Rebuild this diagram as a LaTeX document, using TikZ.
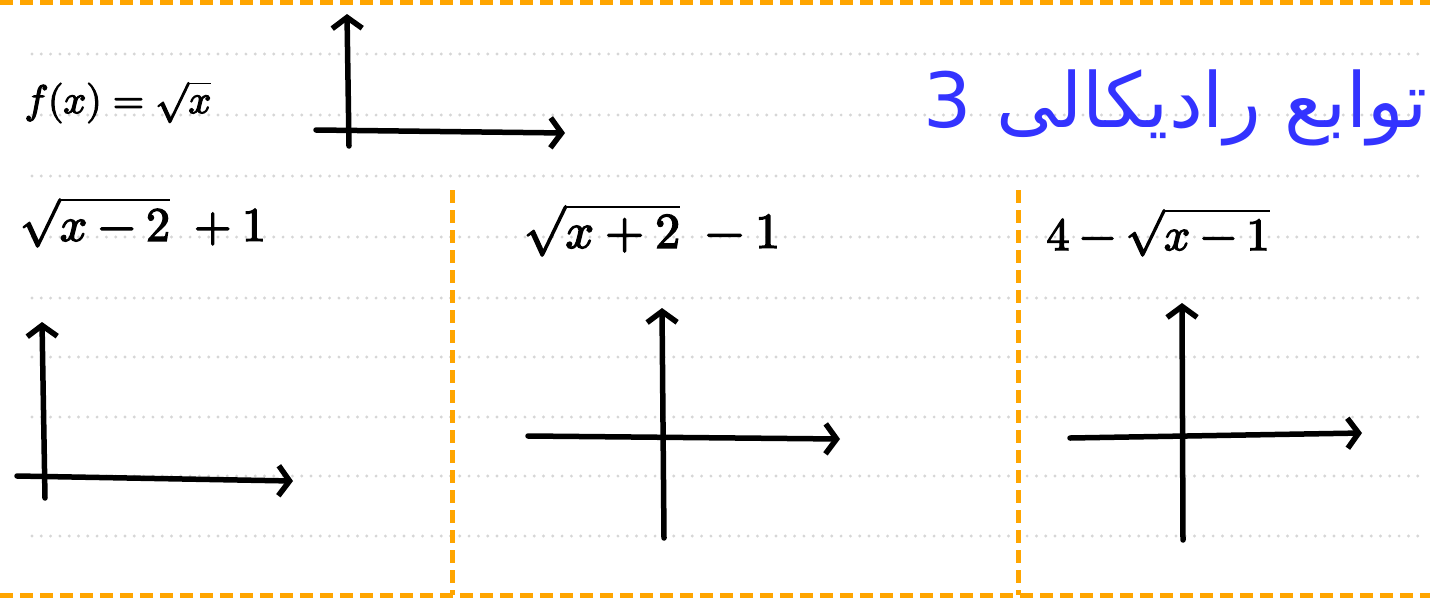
\documentclass[tikz,border=0pt]{standalone}
\usepackage{fontspec}
\usepackage{unicode-math}
\setmathfont{Latin Modern Math}
\setmathfont[version=heavy,FakeBold=3]{Latin Modern Math}
\usetikzlibrary{arrows.meta}
\newfontfamily\arabicfont[Script=Arabic]{DejaVu Sans}
\TeXXeTstate=1
\definecolor{dashorange}{HTML}{FFA500}
\definecolor{rulegray}{HTML}{D6D6D6}
\definecolor{titleblue}{HTML}{3333FF}
\begin{document}
\begin{tikzpicture}[x=1pt,y=-1pt,
  rule/.style={rulegray, line width=3.2pt, line cap=round, dash pattern=on 0pt off 9.3pt},
  frame/.style={dashorange, line width=5pt, dash pattern=on 13pt off 7pt},
  axis/.style={line width=5.5pt, line cap=round, -{Straight Barb[length=11pt,width=30pt]}},
  formula/.style={inner sep=0pt, text=black}]
\useasboundingbox (0,0) rectangle (1430,598);
\fill[white] (0,0) rectangle (1430,598);
% ruled dotted lines
\foreach \yy in {54,115,176,237,298,357,417,476,536}
  \draw[rule] (32,\yy) -- (1425,\yy);
% orange dashed frame
\draw[frame] (0,2) -- (1430,2);
\draw[frame] (0,595) -- (1430,595);
\draw[frame] (452,190) -- (452,595);
\draw[frame] (1018,190) -- (1018,595);
% title
\node[text=titleblue, font=\arabicfont\fontsize{76}{80}\selectfont] (title) at (1176,108) {\beginR توابع رادیکالی 3\endR};
% formulas
\node[formula, font=\fontsize{40}{44}\selectfont\mathversion{heavy}] (f0) at (118,102) {$f(x)=\sqrt{x}$};
\node[formula, font=\fontsize{48}{52}\selectfont\mathversion{heavy}] (f1) at (143,222) {$\sqrt{x-2}\;+1$};
\node[formula, font=\fontsize{50}{54}\selectfont\mathversion{heavy}] (f2) at (652,230) {$\sqrt{x+2}\;-1$};
\node[formula, font=\fontsize{46}{50}\selectfont\mathversion{heavy}] (f3) at (1158,232) {$4-\sqrt{x-1}$};
% axes 0
\coordinate (a0b) at (349,146); \coordinate (a0t) at (347,14);
\coordinate (a0l) at (316,130); \coordinate (a0r) at (565,133);
\draw[axis] (a0b) -- (a0t);
\draw[axis] (a0l) -- (a0r);
% axes 1
\coordinate (a1b) at (45,498); \coordinate (a1t) at (42,322);
\coordinate (a1l) at (17,476); \coordinate (a1r) at (293,481);
\draw[axis] (a1b) -- (a1t);
\draw[axis] (a1l) -- (a1r);
% axes 2
\coordinate (a2b) at (664,538); \coordinate (a2t) at (662,308);
\coordinate (a2l) at (528,436); \coordinate (a2r) at (840,439);
\draw[axis] (a2b) -- (a2t);
\draw[axis] (a2l) -- (a2r);
% axes 3
\coordinate (a3b) at (1183,540); \coordinate (a3t) at (1182,303);
\coordinate (a3l) at (1070,438); \coordinate (a3r) at (1362,433);
\draw[axis] (a3b) -- (a3t);
\draw[axis] (a3l) -- (a3r);
\end{tikzpicture}
\end{document}
